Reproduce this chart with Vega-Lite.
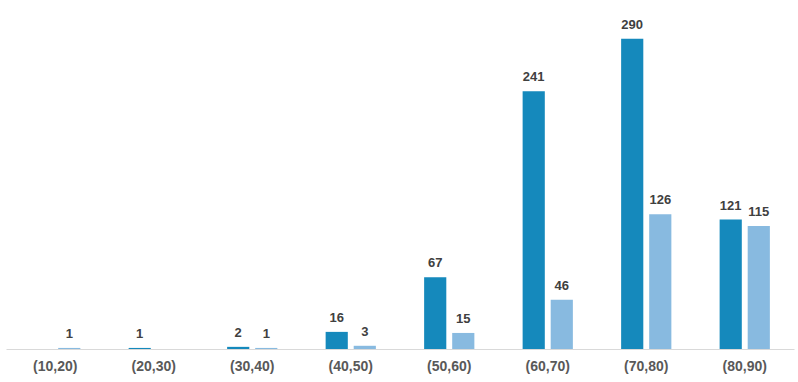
{
  "$schema": "https://vega.github.io/schema/vega-lite/v6.json",
  "width": 788,
  "height": 321,
  "padding": {"left": 6, "top": 18, "right": 4, "bottom": 5},
  "background": "white",
  "config": {"view": {"stroke": null}},
  "data": {"values": [
    {"range": "(10,20)", "series": "A", "value": 0},
    {"range": "(10,20)", "series": "B", "value": 1},
    {"range": "(20,30)", "series": "A", "value": 1},
    {"range": "(20,30)", "series": "B", "value": 0},
    {"range": "(30,40)", "series": "A", "value": 2},
    {"range": "(30,40)", "series": "B", "value": 1},
    {"range": "(40,50)", "series": "A", "value": 16},
    {"range": "(40,50)", "series": "B", "value": 3},
    {"range": "(50,60)", "series": "A", "value": 67},
    {"range": "(50,60)", "series": "B", "value": 15},
    {"range": "(60,70)", "series": "A", "value": 241},
    {"range": "(60,70)", "series": "B", "value": 46},
    {"range": "(70,80)", "series": "A", "value": 290},
    {"range": "(70,80)", "series": "B", "value": 126},
    {"range": "(80,90)", "series": "A", "value": 121},
    {"range": "(80,90)", "series": "B", "value": 115}
  ]},
  "transform": [{"filter": "datum.value > 0"}],
  "encoding": {
    "x": {
      "field": "range", "type": "nominal", "sort": null,
      "scale": {"paddingInner": 0.49, "paddingOuter": 0.245},
      "axis": {
        "title": null, "labelAngle": 0, "ticks": false,
        "domainColor": "#d9d9d9", "domainWidth": 1,
        "labelFont": "Liberation Sans Narrow, Arial Narrow, sans-serif",
        "labelFontSize": 14, "labelFontWeight": "bold", "labelColor": "#595959",
        "labelPadding": 10
      }
    },
    "xOffset": {"field": "series", "type": "nominal", "scale": {"paddingInner": 0.21, "paddingOuter": 0}},
    "y": {"field": "value", "type": "quantitative", "scale": {"domain": [0, 300]}, "axis": null}
  },
  "layer": [
    {
      "mark": {"type": "bar"},
      "encoding": {
        "color": {"field": "series", "type": "nominal", "scale": {"domain": ["A", "B"], "range": ["#1589BC", "#88BAE0"]}, "legend": null}
      }
    },
    {
      "mark": {"type": "text", "baseline": "bottom", "dy": -7, "font": "Liberation Sans Narrow, Arial Narrow, sans-serif", "fontSize": 13, "fontWeight": "bold", "color": "#404040"},
      "encoding": {"text": {"field": "value", "type": "quantitative"}}
    }
  ]
}
